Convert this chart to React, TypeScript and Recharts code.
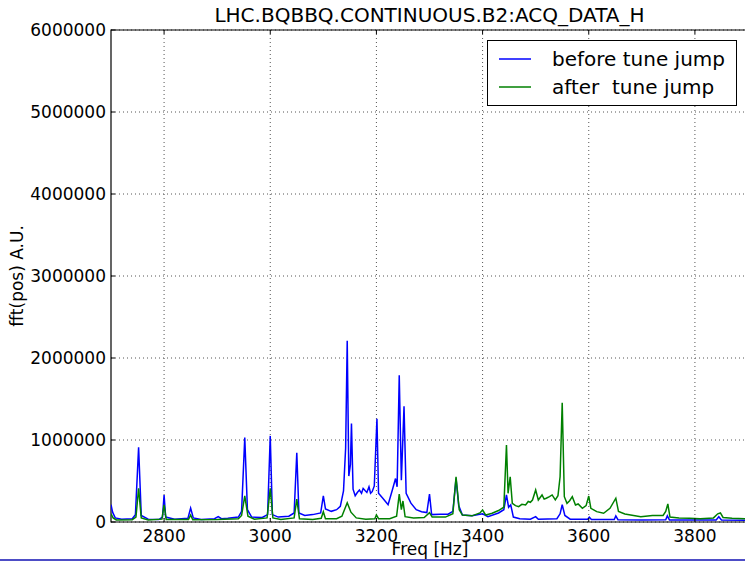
import { LineChart, Line, XAxis, YAxis, CartesianGrid, ReferenceArea } from 'recharts';

// spectrum before the tune jump: [freq Hz, fft amplitude]
const beforeTune: [number, number][] = [
    [2700, 210000], [2703, 120000], [2708, 50000], [2720, 35000], [2740, 40000],
    [2746, 90000], [2752, 910000], [2757, 80000], [2770, 35000], [2790, 30000],
    [2797, 60000], [2800, 330000], [2803, 60000], [2820, 35000], [2845, 45000],
    [2850, 170000], [2855, 50000], [2870, 30000], [2895, 40000], [2902, 65000],
    [2908, 40000], [2920, 45000], [2940, 60000], [2946, 130000], [2952, 1030000],
    [2957, 150000], [2965, 60000], [2985, 55000], [2995, 90000], [3000, 1050000],
    [3004, 90000], [3015, 60000], [3035, 70000], [3045, 110000], [3050, 845000],
    [3054, 110000], [3065, 80000], [3080, 90000], [3095, 110000], [3100, 320000],
    [3104, 160000], [3115, 130000], [3125, 150000], [3132, 190000], [3138, 380000],
    [3142, 900000], [3145, 2210000], [3148, 560000], [3151, 700000], [3153, 1200000],
    [3156, 400000], [3160, 320000], [3164, 360000], [3168, 390000], [3172, 350000],
    [3175, 410000], [3179, 380000], [3182, 360000], [3186, 430000], [3189, 350000],
    [3192, 370000], [3196, 440000], [3201, 1260000], [3204, 350000],
    [3212, 290000], [3222, 210000], [3230, 390000], [3236, 530000], [3239, 430000],
    [3243, 1790000], [3247, 510000], [3252, 1410000], [3256, 350000], [3265, 230000],
    [3275, 150000], [3285, 126000], [3295, 115000], [3300, 340000], [3304, 90000],
    [3320, 95000], [3335, 95000], [3344, 130000], [3350, 530000], [3355, 200000],
    [3362, 85000], [3380, 75000], [3400, 100000], [3410, 65000], [3430, 110000],
    [3440, 150000], [3445, 330000], [3449, 180000], [3453, 210000], [3458, 60000],
    [3470, 40000], [3490, 33000], [3500, 65000], [3505, 33000], [3540, 40000],
    [3546, 100000], [3550, 210000], [3555, 80000], [3565, 35000], [3598, 35000],
    [3601, 60000], [3605, 30000], [3648, 30000], [3651, 75000], [3655, 28000],
    [3700, 25000], [3745, 28000], [3748, 75000], [3752, 25000], [3840, 25000],
    [3845, 65000], [3850, 25000], [3900, 22000],
];

// spectrum after the tune jump
const afterTune: [number, number][] = [
    [2700, 100000], [2704, 50000], [2710, 25000], [2740, 28000], [2747, 60000],
    [2752, 410000], [2757, 50000], [2770, 25000], [2796, 35000], [2800, 210000],
    [2804, 30000], [2846, 30000], [2850, 85000], [2854, 28000], [2900, 30000],
    [2940, 40000], [2946, 80000], [2952, 320000], [2958, 70000], [2970, 35000],
    [2994, 50000], [3000, 410000], [3005, 50000], [3020, 30000], [3045, 50000],
    [3050, 280000], [3055, 40000], [3080, 30000], [3096, 45000], [3100, 126000],
    [3104, 40000], [3125, 40000], [3135, 70000], [3145, 235000], [3152, 120000],
    [3162, 50000], [3180, 35000], [3197, 40000], [3200, 85000], [3204, 40000],
    [3225, 40000], [3238, 70000], [3243, 340000], [3247, 150000], [3250, 256000],
    [3254, 65000], [3270, 50000], [3290, 55000], [3300, 113000], [3305, 60000],
    [3330, 60000], [3344, 100000], [3350, 552000], [3356, 150000], [3362, 85000],
    [3380, 75000], [3395, 110000], [3400, 146000], [3406, 85000], [3418, 106000],
    [3430, 140000], [3440, 180000], [3445, 940000], [3448, 350000], [3452, 552000],
    [3456, 228000], [3462, 200000], [3468, 187000], [3474, 215000], [3481, 207000],
    [3486, 250000], [3490, 240000], [3494, 268000],
    [3500, 390000], [3505, 268000], [3512, 330000], [3516, 280000], [3520, 290000], [3526, 310000],
    [3531, 330000], [3537, 270000], [3542, 320000], [3546, 552000], [3550, 1455000],
    [3554, 309000], [3559, 228000], [3564, 260000], [3569, 309000], [3575, 207000], [3580, 220000],
    [3588, 167000], [3595, 200000], [3600, 317000], [3604, 167000], [3615, 126000],
    [3628, 106000], [3640, 167000], [3651, 290000], [3656, 130000], [3668, 98000],
    [3698, 65000], [3720, 80000], [3740, 80000], [3745, 130000], [3749, 220000],
    [3753, 60000], [3770, 50000], [3790, 45000], [3810, 40000], [3835, 50000],
    [3843, 100000], [3848, 110000], [3853, 55000], [3870, 45000], [3900, 40000],
];

const xTicks = [2800, 3000, 3200, 3400, 3600, 3800];
const yTicks = [0, 1000000, 2000000, 3000000, 4000000, 5000000, 6000000];

const legendItems = [
    { color: '#0000ff', label: 'before tune jump' },
    { color: '#008000', label: 'after  tune jump' },
];

const FONT = '"DejaVu Sans", Verdana, sans-serif';
const TOP = 30;
const BOTTOM = 522;
const LEFT = 111;

const toPoints = (rows: [number, number][]) => rows.map(([f, v]) => ({ f, v }));

const XTick = ({ x, payload }: { x?: number; payload?: { value: number } }) => (
    <g>
        <line x1={x} x2={x} y1={BOTTOM} y2={BOTTOM - 4} stroke="#000" />
        <line x1={x} x2={x} y1={TOP} y2={TOP + 4} stroke="#000" />
        <text x={x} y={BOTTOM + 20} textAnchor="middle" fontSize={17} fill="#000" fontFamily={FONT}>
            {payload?.value}
        </text>
    </g>
);

const YTick = ({ y, payload }: { y?: number; payload?: { value: number } }) => (
    <g>
        <line x1={LEFT} x2={LEFT + 4} y1={y} y2={y} stroke="#000" />
        <text x={LEFT - 5} y={y} dy="0.36em" textAnchor="end" fontSize={17} fill="#000" fontFamily={FONT}>
            {payload?.value}
        </text>
    </g>
);

const LegendBox = () => (
    <div
        style={{
            position: 'absolute',
            top: 40,
            left: 487,
            width: 248,
            height: 64,
            border: '1px solid #000',
            background: '#fff',
            fontFamily: FONT,
            fontSize: 20,
            color: '#000',
        }}
    >
        {legendItems.map((item, i) => (
            <div
                key={item.label}
                style={{ position: 'absolute', left: 11, top: 6 + i * 28, height: 24, display: 'flex', alignItems: 'center' }}
            >
                <svg width={32} height={4} style={{ display: 'block' }}>
                    <line x1={0} x2={32} y1={2} y2={2} stroke={item.color} strokeWidth={1.5} />
                </svg>
                <span style={{ marginLeft: 21, whiteSpace: 'pre', lineHeight: '24px' }}>{item.label}</span>
            </div>
        ))}
    </div>
);

export default function App() {
    return (
        <div style={{ position: 'fixed', left: 0, top: 0, width: 745, height: 561, overflow: 'hidden', background: '#fff' }}>
            <div
                style={{
                    position: 'absolute',
                    top: 3,
                    left: LEFT,
                    width: 637,
                    textAlign: 'center',
                    fontFamily: FONT,
                    fontSize: 20,
                    lineHeight: '24px',
                    color: '#000',
                }}
            >
                LHC.BQBBQ.CONTINUOUS.B2:ACQ_DATA_H
            </div>
            <div style={{ position: 'absolute', left: 0, top: 0 }}>
                <LineChart width={760} height={561} margin={{ top: TOP, right: 12, left: 11, bottom: 9 }}>
                    <CartesianGrid stroke="#555" strokeDasharray="1 3" horizontalValues={yTicks} verticalValues={xTicks} />
                    <XAxis
                        type="number"
                        dataKey="f"
                        domain={[2700, 3900]}
                        ticks={xTicks}
                        allowDataOverflow
                        height={30}
                        axisLine={false}
                        tickLine={false}
                        tick={<XTick />}
                        label={() => (
                            <text x={430} y={549} textAnchor="middle" dominantBaseline="central" fontSize={17} fontFamily={FONT} fill="#000">
                                Freq [Hz]
                            </text>
                        )}
                    />
                    <YAxis
                        type="number"
                        domain={[0, 6000000]}
                        ticks={yTicks}
                        allowDataOverflow
                        width={100}
                        axisLine={false}
                        tickLine={false}
                        tick={<YTick />}
                        label={() => (
                            <text
                                transform="translate(17,276) rotate(-90)"
                                textAnchor="middle"
                                dominantBaseline="central"
                                fontSize={17}
                                fontFamily={FONT}
                                fill="#000"
                            >
                                fft(pos) A.U.
                            </text>
                        )}
                    />
                    <Line
                        data={toPoints(beforeTune)}
                        dataKey="v"
                        name="before tune jump"
                        stroke="#0000ff"
                        strokeWidth={1.5}
                        dot={false}
                        activeDot={false}
                        isAnimationActive={false}
                    />
                    <Line
                        data={toPoints(afterTune)}
                        dataKey="v"
                        name="after  tune jump"
                        stroke="#008000"
                        strokeWidth={1.5}
                        dot={false}
                        activeDot={false}
                        isAnimationActive={false}
                    />
                    <ReferenceArea x1={2700} x2={3900} y1={0} y2={6000000} fill="none" stroke="#000" strokeWidth={1.2} />
                </LineChart>
            </div>
            <LegendBox />
            <div style={{ position: 'absolute', left: 0, top: 559, width: 745, height: 2, background: '#4d4dc6' }} />
        </div>
    );
}
